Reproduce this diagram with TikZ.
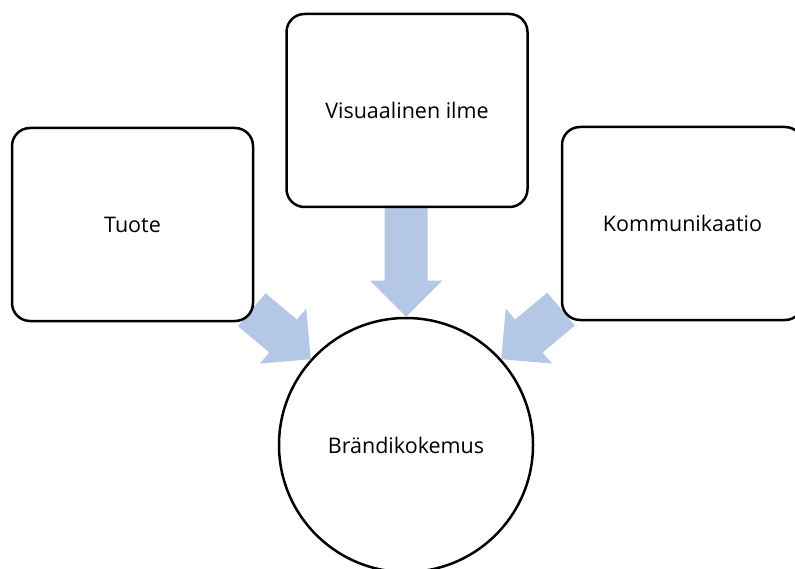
\documentclass[tikz,border=0pt]{standalone}
\usepackage{fontspec}
\setmainfont{Open Sans}
\usetikzlibrary{backgrounds}
\definecolor{arrowblue}{RGB}{180,200,230}
\begin{document}
\begin{tikzpicture}[x=1pt,y=-1pt,
  box/.style={draw=black, line width=2.5pt, rounded corners=18pt,
    minimum width=241pt, minimum height=193pt, inner sep=0pt,
    font=\fontsize{21.5}{25}\selectfont},
  hub/.style={circle, draw=black, line width=2.5pt, minimum size=254pt,
    inner sep=0pt, font=\fontsize{21.5}{25}\selectfont},
  % block arrow whose tip sits at the pic origin, body of length #1 behind it
  pics/blockarrow/.style={code={
    \fill[arrowblue] (0,0) -- (-36,-36) -- (-36,-21.5) -- (-#1,-21.5)
      -- (-#1,21.5) -- (-36,21.5) -- (-36,36) -- cycle;}}
]
\useasboundingbox (0,0) rectangle (795,569);
\clip (0,0) rectangle (795,569);

\node[box] (tuote) at (132.5,224.5) {Tuote};
\node[box] (visu)  at (407,110.5)  {Visuaalinen ilme};
\node[box] (komm)  at (682.5,223.5) {Kommunikaatio};
\node[hub] (brand) at (406,445) {Brändikokemus};

\begin{scope}[on background layer]
  \pic[rotate=-90]  at (brand.north) {blockarrow=111};
  \pic[rotate=-40]  at (brand.138)   {blockarrow=77};
  \pic[rotate=-140] at (brand.42)    {blockarrow=78};
\end{scope}
\end{tikzpicture}
\end{document}
